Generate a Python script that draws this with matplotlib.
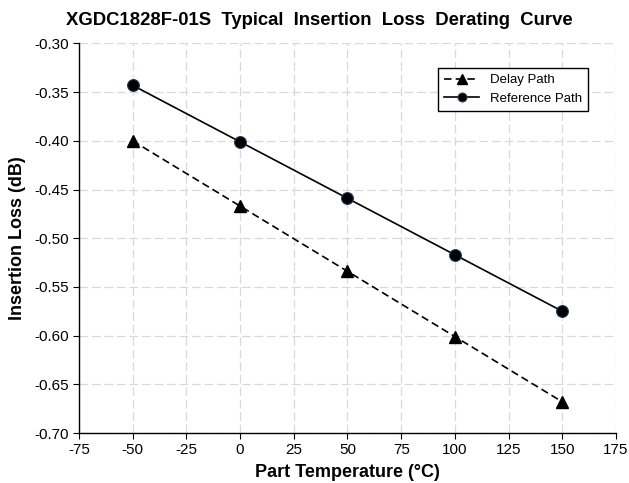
import matplotlib
matplotlib.use("Agg")
import matplotlib.pyplot as plt

temps = [-50, 0, 50, 100, 150]
delay_path = [-0.400, -0.467, -0.534, -0.601, -0.668]
reference_path = [-0.343, -0.401, -0.459, -0.517, -0.575]
x_ticks = [-75, -50, -25, 0, 25, 50, 75, 100, 125, 150, 175]
y_ticks = [-0.70, -0.65, -0.60, -0.55, -0.50, -0.45, -0.40, -0.35, -0.30]

plt.rcParams['font.family'] = ['Liberation Sans', 'DejaVu Sans']

fig = plt.figure(figsize=(6.29, 4.83), dpi=100)
ax = fig.add_axes([0.1256, 0.1035, 0.8537, 0.8065])

ax.plot(temps, delay_path, linestyle=(0, (4.5, 2.5)), color='black', linewidth=1.2,
        marker='^', markersize=9, markerfacecolor='black', markeredgecolor='black',
        label='Delay Path', zorder=3)
ax.plot(temps, reference_path, linestyle='-', color='black', linewidth=1.2,
        marker='o', markersize=8.5, markerfacecolor='black', markeredgecolor='#1f3864',
        markeredgewidth=0.8, label='Reference Path', zorder=3)

ax.set_xlim(-75, 175)
ax.set_ylim(-0.70, -0.30)
ax.set_xticks(x_ticks)
ax.set_yticks(y_ticks)
ax.set_xticklabels([str(t) for t in x_ticks])
ax.set_yticklabels([f"{t:.2f}" for t in y_ticks])
ax.tick_params(axis='both', labelsize=11, direction='out', length=4, color='black', pad=3)

ax.grid(True, color='#d9d9d9', linestyle=(0, (7, 3)), linewidth=0.9)
ax.set_axisbelow(True)
for side in ['top', 'right']:
    ax.spines[side].set_visible(False)
for side in ['left', 'bottom']:
    ax.spines[side].set_color('black')
    ax.spines[side].set_linewidth(1.0)

ax.set_xlabel('Part Temperature (°C)', fontsize=13, fontweight='bold', labelpad=5)
ax.set_ylabel('Insertion Loss (dB)', fontsize=13, fontweight='bold', labelpad=6)
fig.suptitle('XGDC1828F-01S  Typical  Insertion  Loss  Derating  Curve',
             fontsize=13.3, fontweight='bold', x=0.508, y=0.975)

leg = ax.legend(loc='upper right', bbox_to_anchor=(0.948, 0.937), fontsize=9.5,
                frameon=True, fancybox=False, edgecolor='black', framealpha=1,
                handlelength=2.7, borderpad=0.45, labelspacing=0.5, markerscale=0.75,
                borderaxespad=0)
leg.get_frame().set_linewidth(1.0)

fig.savefig('out.png', dpi=100)
